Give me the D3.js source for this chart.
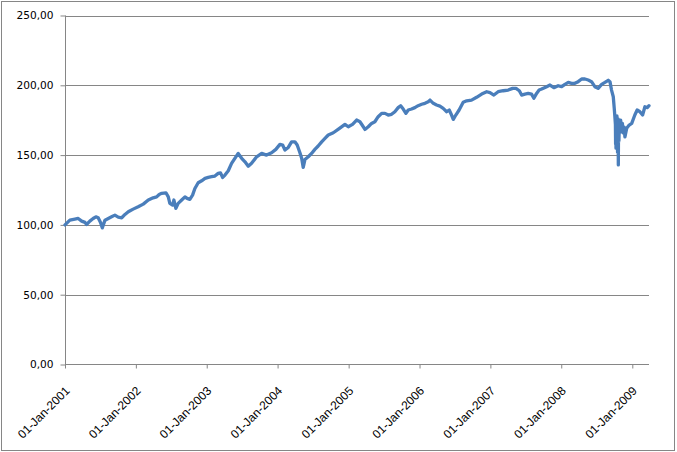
<!DOCTYPE html>
<html><head><meta charset="utf-8">
<script src="https://cdn.jsdelivr.net/npm/d3@7"></script>
<style>body{margin:0;background:#fff}</style>
</head><body>
<script>
const dates = ["2001-01-01","2001-01-26","2001-02-21","2001-03-10","2001-03-28","2001-04-14","2001-04-22","2001-05-09","2001-05-26","2001-06-09","2001-06-21","2001-07-03","2001-07-12","2001-07-26","2001-08-12","2001-08-29","2001-09-15","2001-10-02","2001-10-20","2001-11-06","2001-11-23","2001-12-18",
"2002-01-13","2002-02-08","2002-03-06","2002-03-31","2002-04-18","2002-05-01","2002-05-14","2002-06-05","2002-06-17","2002-06-25","2002-07-09","2002-07-16","2002-07-26","2002-08-07","2002-08-25","2002-09-11","2002-09-22","2002-10-06","2002-10-20","2002-11-01","2002-11-18","2002-12-06","2002-12-23",
"2003-01-09","2003-01-26","2003-02-12","2003-03-01","2003-03-13","2003-03-24","2003-04-05","2003-04-22","2003-05-09","2003-05-26","2003-06-12","2003-06-30","2003-07-17","2003-08-03","2003-08-20","2003-09-15","2003-10-11","2003-11-05","2003-12-01","2003-12-23",
"2004-01-13","2004-01-27","2004-02-08","2004-02-25","2004-03-13","2004-03-30","2004-04-11","2004-04-25","2004-05-04","2004-05-12","2004-05-21","2004-06-07","2004-06-24","2004-07-11","2004-07-28","2004-08-15","2004-09-01","2004-09-18","2004-10-14","2004-11-13","2004-12-13","2004-12-30",
"2005-01-21","2005-02-11","2005-02-28","2005-03-14","2005-03-26","2005-04-12","2005-04-29","2005-05-16","2005-06-02","2005-06-20","2005-07-07","2005-07-24","2005-08-10","2005-08-27","2005-09-13","2005-09-26","2005-10-09","2005-10-23","2005-11-04","2005-11-21","2005-12-08","2005-12-25",
"2006-01-12","2006-01-29","2006-02-15","2006-02-24","2006-03-13","2006-03-30","2006-04-16","2006-05-03","2006-05-21","2006-06-03","2006-06-15","2006-06-24","2006-07-07","2006-07-24","2006-08-14","2006-09-01","2006-09-26","2006-10-22","2006-11-17","2006-12-13","2006-12-30",
"2007-01-19","2007-02-10","2007-03-08","2007-04-03","2007-04-26","2007-05-13","2007-05-30","2007-06-11","2007-06-28","2007-07-15","2007-08-01","2007-08-13","2007-08-27","2007-09-09","2007-09-22","2007-10-18","2007-11-04","2007-11-24","2007-12-16",
"2008-01-03","2008-01-20","2008-02-06","2008-02-23","2008-03-11","2008-03-28","2008-04-15","2008-05-02","2008-05-19","2008-06-05","2008-06-22","2008-07-09","2008-07-27","2008-08-13","2008-08-30","2008-09-08","2008-09-16","2008-09-25","2008-09-30","2008-10-03","2008-10-06","2008-10-07","2008-10-08","2008-10-09","2008-10-10","2008-10-13","2008-10-14","2008-10-15","2008-10-16","2008-10-17","2008-10-20","2008-10-21","2008-10-22","2008-10-24","2008-10-27","2008-10-29","2008-11-02","2008-11-07","2008-11-11","2008-11-15","2008-11-20","2008-11-24","2008-12-03","2008-12-16","2008-12-29",
"2009-01-14","2009-01-26","2009-02-09","2009-02-23","2009-03-07","2009-03-19","2009-03-28"];
const values = [100.0,103.4,104.1,104.6,102.7,101.8,100.3,102.7,104.6,105.8,105.1,101.8,97.9,103.4,104.6,105.8,107.0,105.6,105.1,107.5,109.4,111.3,
113.0,114.9,117.8,119.4,120.1,121.8,122.6,123.0,120.1,115.4,114.2,117.8,111.8,115.4,117.8,120.1,119.0,118.3,121.3,126.1,130.2,131.6,133.3,
134.0,134.5,135.0,136.9,137.3,134.0,135.7,138.8,144.1,147.7,151.2,147.7,145.2,142.0,144.1,148.8,151.2,150.0,151.7,154.1,
157.7,157.2,153.6,155.5,159.5,159.5,157.2,151.7,147.7,141.2,146.9,148.8,151.2,154.1,156.5,159.5,162.0,164.4,166.0,169.0,172.0,170.3,
172.0,175.1,173.9,171.0,168.4,170.3,172.7,173.9,177.5,179.9,179.9,178.7,179.2,181.1,184.0,185.4,183.0,179.9,182.3,183.0,184.0,185.4,
186.4,187.1,188.2,189.4,187.1,185.9,185.1,183.5,181.1,182.3,178.7,175.6,178.7,182.3,187.8,188.9,189.4,191.4,193.7,195.4,194.7,
193.0,195.4,196.1,196.6,197.8,197.8,196.1,193.0,193.7,194.2,193.7,190.7,194.2,196.6,197.3,199.0,200.2,198.3,199.7,
199.0,200.7,202.1,201.4,201.4,202.6,204.5,204.5,203.8,202.6,199.0,197.8,200.7,202.1,203.6,202.6,196.6,191.8,183.5,178.0,172.0,158.0,176.0,155.0,172.0,160.0,178.0,157.0,174.0,152.0,176.0,143.0,170.0,160.0,175.0,171.5,175.1,166.7,172.7,166.0,170.0,163.1,169.2,171.5,172.7,
178.7,182.3,181.1,178.7,184.6,184.0,185.4];
const yTicks = [0,50,100,150,200,250];
const xTickLabels = ["01-Jan-2001","01-Jan-2002","01-Jan-2003","01-Jan-2004","01-Jan-2005","01-Jan-2006","01-Jan-2007","01-Jan-2008","01-Jan-2009"];

const W = 677, H = 452;
const parse = d3.timeParse("%Y-%m-%d");
const parseTick = d3.timeParse("%d-%b-%Y");
const data = dates.map((d,i)=>({date: parse(d), v: values[i]}));

const svg = d3.select("body").append("svg").attr("width", W).attr("height", H);
svg.append("rect").attr("x",1.5).attr("y",1.5).attr("width",673).attr("height",449)
  .attr("fill","#fff").attr("stroke","#868686").attr("stroke-width",1);

const x = d3.scaleTime().domain([data[0].date, data[data.length-1].date]).range([65, 649]);
const y = d3.scaleLinear().domain([0,250]).range([364.5, 15.5]);

// gridlines
svg.append("g").selectAll("line").data(yTicks.filter(t=>t>0)).join("line")
  .attr("x1",65).attr("x2",649).attr("y1",d=>Math.round(y(d))+0.5).attr("y2",d=>Math.round(y(d))+0.5)
  .attr("stroke","#868686").attr("stroke-width",1);

// y axis
const fmt = v => d3.format(".2f")(v).replace(".", ",");
const yAxis = svg.append("g").attr("transform","translate(65.5,0)")
  .call(d3.axisLeft(y).tickValues(yTicks).tickSize(5).tickPadding(7).tickFormat(fmt));
yAxis.selectAll("path,line").attr("stroke","#868686");
yAxis.select(".domain").attr("d","M0,15.5V364.5");
yAxis.selectAll("text").attr("font-family","DejaVu Sans, Verdana, sans-serif").attr("font-size","10.6px").attr("fill","#000");

// x axis
const xTicks = xTickLabels.map(s=>parseTick(s));
const xAxis = svg.append("g").attr("transform","translate(0,364.5)")
  .call(d3.axisBottom(x).tickValues(xTicks).tickSize(4).tickFormat(d3.timeFormat("%d-%b-%Y")));
xAxis.selectAll("path,line").attr("stroke","#868686");
xAxis.select(".domain").attr("d","M65,0H649");
xAxis.selectAll("text")
  .attr("font-family","Liberation Sans, Arial, sans-serif").attr("font-size","12px").attr("fill","#000")
  .attr("text-anchor","end").attr("y",0).attr("dy",0)
  .attr("transform","translate(5,27) rotate(-45)");

// line
const line = d3.line().x(d=>x(d.date)).y(d=>y(d.v)).curve(d3.curveLinear);
svg.append("path").datum(data).attr("d",line).attr("fill","none")
  .attr("stroke","#4A7EBB").attr("stroke-width",3.3).attr("stroke-linejoin","round").attr("stroke-linecap","round");
</script>
</body></html>
